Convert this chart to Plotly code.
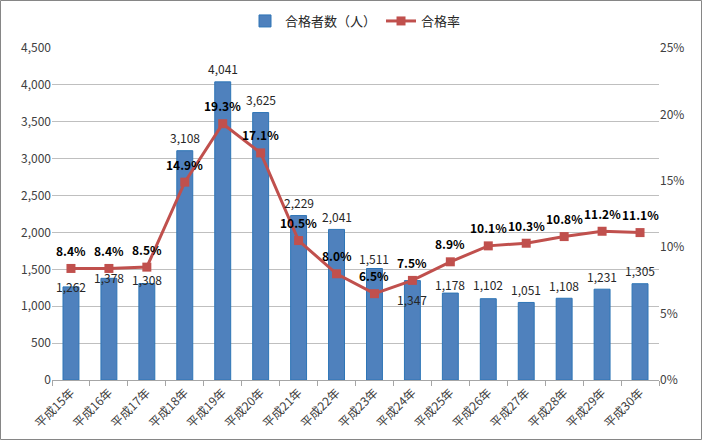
import plotly.graph_objects as go

categories = ["平成15年", "平成16年", "平成17年", "平成18年", "平成19年", "平成20年", "平成21年", "平成22年",
              "平成23年", "平成24年", "平成25年", "平成26年", "平成27年", "平成28年", "平成29年", "平成30年"]
passers = [1262, 1378, 1308, 3108, 4041, 3625, 2229, 2041, 1511, 1347, 1178, 1102, 1051, 1108, 1231, 1305]
rate = [8.4, 8.4, 8.5, 14.9, 19.3, 17.1, 10.5, 8.0, 6.5, 7.5, 8.9, 10.1, 10.3, 10.8, 11.2, 11.1]

# label vertical offsets (px) - style only
bar_label_shift = [0, 1, 4, 13, 13, 13, 13, 13, 10, -19, 9, 14, 13, 13, 13, 13]
rate_label_shift = 18

FONT = "Noto Sans CJK JP"
W, H = 703, 441
ML, MR, MT, MB = 52, 44, 48, 61

fig = go.Figure()
fig.add_trace(go.Bar(
    x=categories, y=passers, name="合格者数（人）",
    marker=dict(color="#4F81BD", line=dict(color="#2E75B6", width=1)),
    width=0.42, yaxis="y",
))
fig.add_trace(go.Scatter(
    x=categories, y=rate, name="合格率", mode="lines+markers",
    line=dict(color="#C0504D", width=3),
    marker=dict(symbol="square", size=9, color="#C0504D"),
    yaxis="y2",
))

annotations = []
for c, v, s in zip(categories, passers, bar_label_shift):
    annotations.append(dict(x=c, y=v, xref="x", yref="y", text=f"{v:,}", showarrow=False,
                            yshift=s, font=dict(family=FONT, size=12, color="#262626")))
for c, r in zip(categories, rate):
    annotations.append(dict(x=c, y=r, xref="x", yref="y2", text=f"<b>{r:.1f}%</b>", showarrow=False,
                            yshift=rate_label_shift, font=dict(family=FONT, size=12, color="#000000")))

pw = W - ML - MR
ph = H - MT - MB
shapes = [dict(type="rect", xref="paper", yref="paper",
               x0=-(ML - 0.5) / pw, x1=1 + (MR - 1.5) / pw,
               y0=-(MB - 1.5) / ph, y1=1 + (MT - 0.5) / ph,
               line=dict(color="#868686", width=1), fillcolor="rgba(0,0,0,0)", layer="above")]

fig.update_layout(
    width=W, height=H,
    margin=dict(l=ML, r=MR, t=MT, b=MB, autoexpand=False),
    paper_bgcolor="white", plot_bgcolor="white",
    font=dict(family=FONT, size=12, color="#404040"),
    showlegend=True,
    legend=dict(orientation="h", x=0.5, xanchor="center", y=1 + 27 / ph, yanchor="middle",
                bgcolor="rgba(0,0,0,0)",
                font=dict(family=FONT, size=13, color="#262626"), traceorder="normal"),
    xaxis=dict(range=[-0.5, len(categories) - 0.5], showgrid=False, showline=True, linecolor="#A6A6A6",
               ticks="outside", tickson="boundaries",
               ticklen=5, tickcolor="#A6A6A6", tickangle=-45, automargin=False,
               tickfont=dict(family=FONT, size=12, color="#404040")),
    yaxis=dict(range=[0, 4500], dtick=500, tickformat=",", showgrid=True, gridcolor="#BFBFBF",
               zeroline=False, showline=False, ticks="", automargin=False,
               tickfont=dict(size=12, color="#404040")),
    yaxis2=dict(range=[0, 25], dtick=5, ticksuffix="%", overlaying="y", side="right", showgrid=False,
                zeroline=False, showline=False, ticks="", automargin=False,
                tickfont=dict(size=12, color="#404040")),
    annotations=annotations,
    shapes=shapes,
)

fig.write_html("out.html")
